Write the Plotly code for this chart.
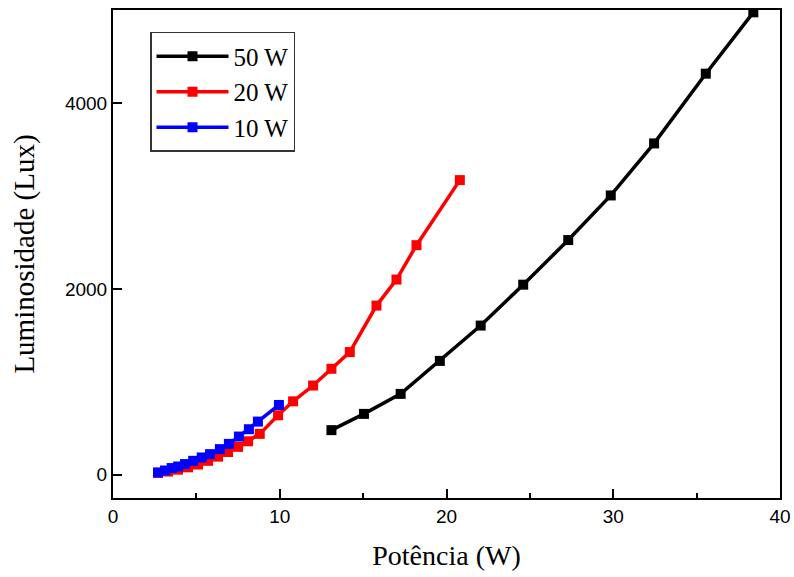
import plotly.graph_objects as go

# 50 W series
x50 = [13.1, 15.05, 17.25, 19.6, 22.05, 24.6, 27.3, 29.85, 32.45, 35.55, 38.4]
y50 = [480, 655, 870, 1225, 1605, 2045, 2525, 3005, 3565, 4315, 4975]

# 20 W series
x20 = [2.7, 3.3, 3.9, 4.5, 5.1, 5.7, 6.3, 6.9, 7.5, 8.1, 8.8, 9.9, 10.8, 12.0, 13.1, 14.2, 15.8, 17.0, 18.2, 20.8]
y20 = [20, 35, 55, 80, 110, 150, 195, 245, 300, 360, 440, 640, 790, 960, 1140, 1320, 1820, 2100, 2470, 3170]

# 10 W series
x10 = [2.7, 3.12, 3.52, 3.91, 4.32, 4.81, 5.32, 5.82, 6.41, 6.95, 7.55, 8.15, 8.69, 9.95]
y10 = [25, 46, 72, 89, 115, 150, 186, 222, 276, 332, 411, 490, 572, 751]

series = [("50 W", x50, y50, "#000000"), ("20 W", x20, y20, "#ff0000"), ("10 W", x10, y10, "#0000ff")]

fig = go.Figure()
for name, xs, ys, col in series:
    fig.add_trace(go.Scatter(x=xs, y=ys, name=name, mode="lines+markers",
                             line=dict(color=col, width=3.5),
                             marker=dict(symbol="square", size=10, color=col)))

serif = "Liberation Serif, Times New Roman, serif"
sans = "Liberation Sans, Arial, sans-serif"

fig.update_layout(
    width=794, height=577,
    margin=dict(l=113, r=14, t=10, b=79),
    plot_bgcolor="white", paper_bgcolor="white",
    showlegend=True,
    legend=dict(x=0.0555, y=0.955, xanchor="left", yanchor="top",
                bordercolor="#333333", borderwidth=1.5, bgcolor="white",
                font=dict(family=serif, size=25, color="black"),
                itemwidth=72, tracegroupgap=0),
    xaxis=dict(range=[0, 40], tickvals=[0, 10, 20, 30, 40], automargin=False,
               ticklabeloverflow="allow",
               showgrid=False, zeroline=False, showline=True, linecolor="black", linewidth=2,
               mirror=True, ticks="inside", ticklen=9, tickwidth=2, tickcolor="black",
               minor=dict(tickvals=[5, 15, 25, 35], ticks="inside", ticklen=5, tickwidth=2, tickcolor="black"),
               tickfont=dict(family=sans, size=19, color="black"),
               title=dict(text="Potência (W)", font=dict(family=serif, size=28, color="black"), standoff=20)),
    yaxis=dict(range=[-250, 5000], tickvals=[0, 2000, 4000], automargin=False,
               ticklabeloverflow="allow",
               showgrid=False, zeroline=False, showline=True, linecolor="black", linewidth=2,
               mirror=True, ticks="inside", ticklen=9, tickwidth=2, tickcolor="black",
               tickfont=dict(family=sans, size=19, color="black"),
               title=dict(text="Luminosidade (Lux)", font=dict(family=serif, size=29, color="black"), standoff=22)),
)

fig.write_html("out.html", config={"displayModeBar": False},
               post_script="document.body.style.margin='0';document.documentElement.style.overflow='hidden';")
